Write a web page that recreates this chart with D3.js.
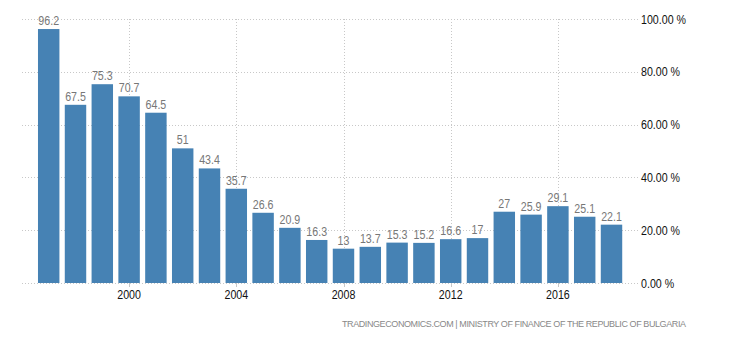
<!DOCTYPE html>
<html>
<head>
<meta charset="utf-8">
<script src="https://cdn.jsdelivr.net/npm/d3@7"></script>
<style>
  html, body { margin: 0; padding: 0; background: #fff; }
  svg { display: block; }
  text { font-family: "Liberation Sans Narrow", "Liberation Sans", Arial, sans-serif; }
</style>
</head>
<body>
<svg id="chart" width="730" height="340"></svg>
<script>
const years = [1997, 1998, 1999, 2000, 2001, 2002, 2003, 2004, 2005, 2006, 2007, 2008, 2009, 2010, 2011, 2012, 2013, 2014, 2015, 2016, 2017, 2018];
const values = [96.2, 67.5, 75.3, 70.7, 64.5, 51, 43.4, 35.7, 26.6, 20.9, 16.3, 13, 13.7, 15.3, 15.2, 16.6, 17, 27, 25.9, 29.1, 25.1, 22.1];
const yTicks = [0, 20, 40, 60, 80, 100];
const xTickYears = [2000, 2004, 2008, 2012, 2016];
const footer = "TRADINGECONOMICS.COM | MINISTRY OF FINANCE OF THE REPUBLIC OF BULGARIA";

const svg = d3.select("#chart");
const x = d3.scaleBand().domain(years).range([35.3, 624.9]).paddingInner(0.2).paddingOuter(0.1);
const y = d3.scaleLinear().domain([0, 100]).range([283, 19]);
const gridLeft = 22, gridRight = 638;
const SX = 0.82; // horizontal condensing of text

// horizontal gridlines
svg.append("g").selectAll("line").data(yTicks).join("line")
  .attr("x1", gridLeft).attr("x2", gridRight)
  .attr("y1", d => Math.round(y(d)) + 0.5).attr("y2", d => Math.round(y(d)) + 0.5)
  .attr("stroke", "#c8c8c8").attr("stroke-width", 1).attr("stroke-dasharray", "1,2");

// vertical gridlines
svg.append("g").selectAll("line").data(xTickYears).join("line")
  .attr("x1", d => Math.round(x(d) + x.bandwidth() / 2) + 0.5)
  .attr("x2", d => Math.round(x(d) + x.bandwidth() / 2) + 0.5)
  .attr("y1", y(100)).attr("y2", y(0))
  .attr("stroke", "#c8c8c8").attr("stroke-width", 1).attr("stroke-dasharray", "1,2");

// bars
svg.append("g").selectAll("rect").data(values).join("rect")
  .attr("x", (d, i) => x(years[i]))
  .attr("width", x.bandwidth())
  .attr("y", d => y(d))
  .attr("height", d => y(0) - y(d))
  .attr("fill", "#4682b4");

// value labels
svg.append("g").selectAll("text").data(values).join("text")
  .attr("transform", (d, i) => `translate(${x(years[i]) + x.bandwidth() / 2},${y(d) - 4}) scale(${SX},1)`)
  .attr("text-anchor", "middle")
  .attr("font-size", 13)
  .attr("fill", "#777")
  .text(d => d);

// x axis ticks & labels
const xa = svg.append("g");
xa.selectAll("line").data(xTickYears).join("line")
  .attr("x1", d => Math.round(x(d) + x.bandwidth() / 2) + 0.5)
  .attr("x2", d => Math.round(x(d) + x.bandwidth() / 2) + 0.5)
  .attr("y1", y(0)).attr("y2", y(0) + 4)
  .attr("stroke", "#c8c8c8");
xa.selectAll("text").data(xTickYears).join("text")
  .attr("transform", d => `translate(${x(d) + x.bandwidth() / 2},299) scale(${SX},1)`)
  .attr("text-anchor", "middle")
  .attr("font-size", 13)
  .attr("fill", "#111")
  .text(d => d);

// y axis labels
svg.append("g").selectAll("text").data(yTicks).join("text")
  .attr("transform", d => `translate(641,${y(d) + 4.5}) scale(${SX},1)`)
  .attr("font-size", 13)
  .attr("fill", "#111")
  .text(d => d.toFixed(2) + " %");

// footer
svg.append("text")
  .attr("x", 686).attr("y", 327)
  .attr("text-anchor", "end")
  .attr("font-size", 9)
  .attr("fill", "#888")
  .attr("textLength", 344)
  .attr("lengthAdjust", "spacing")
  .text(footer);
</script>
</body>
</html>
